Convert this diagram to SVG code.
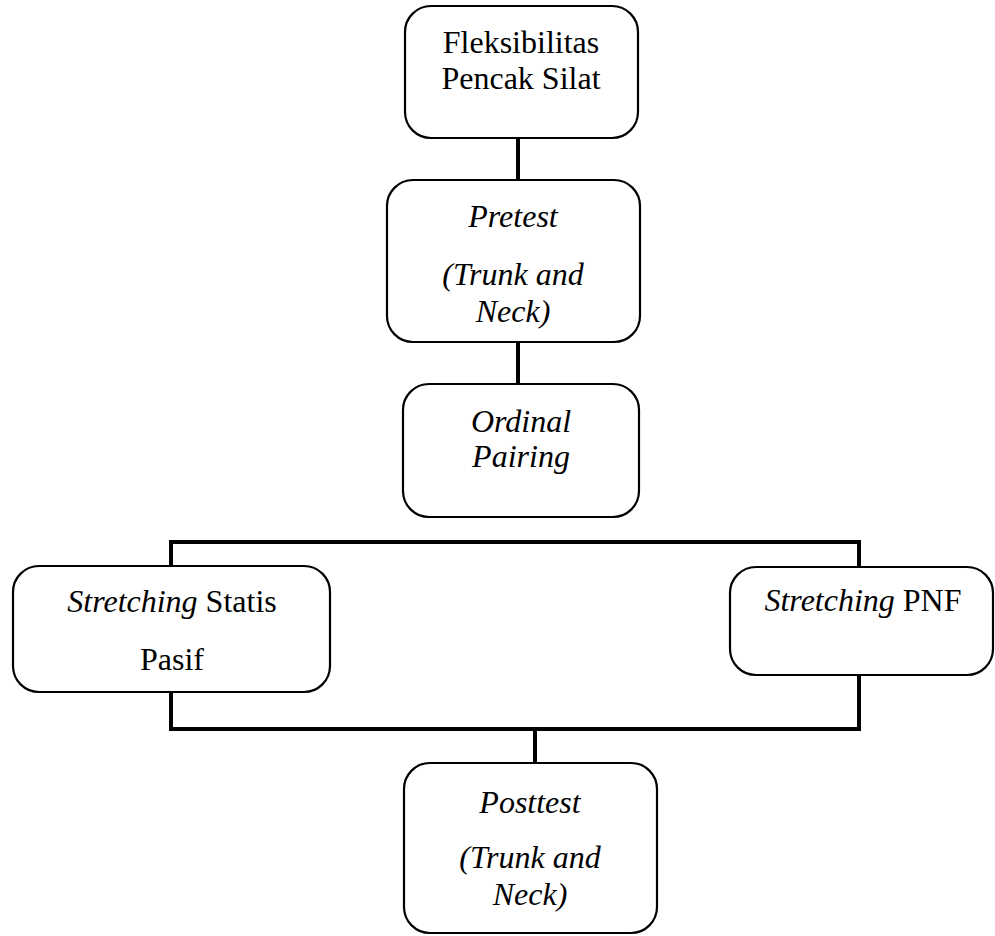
<svg xmlns="http://www.w3.org/2000/svg" width="995" height="936" viewBox="0 0 995 936">
<style>
.box{fill:#fff;stroke:#000;stroke-width:2.2}
.t{font-family:"Liberation Serif","Times New Roman",serif;font-size:32px;fill:#000;text-anchor:middle}
.i{font-style:italic}
.c{fill:none;stroke:#000;stroke-width:4;stroke-linecap:square}
</style>
<rect width="995" height="936" fill="#fff"/>
<g id="connectors">
<line class="c" x1="518" y1="138" x2="518" y2="180"/>
<line class="c" x1="518" y1="342" x2="518" y2="384"/>
<polyline class="c" points="171,566 171,542 859,542 859,567"/>
<polyline class="c" points="171,692 171,729 859,729 859,675"/>
<line class="c" x1="535" y1="729" x2="535" y2="763"/>
</g>
<g id="n1">
<rect class="box" x="405" y="6" width="233" height="132" rx="26"/>
<text class="t" x="521" y="53">Fleksibilitas</text>
<text class="t" x="521" y="89">Pencak Silat</text>
</g>
<g id="n2">
<rect class="box" x="387" y="180" width="253" height="162" rx="26"/>
<text class="t i" x="513" y="227">Pretest</text>
<text class="t i" x="513" y="285">(Trunk and</text>
<text class="t i" x="513" y="322">Neck)</text>
</g>
<g id="n3">
<rect class="box" x="403" y="384" width="236" height="133" rx="26"/>
<text class="t i" x="521" y="432">Ordinal</text>
<text class="t i" x="521" y="467">Pairing</text>
</g>
<g id="n4">
<rect class="box" x="13" y="566" width="317" height="126" rx="26"/>
<text class="t" x="172" y="612"><tspan class="i">Stretching</tspan> Statis</text>
<text class="t" x="172" y="670">Pasif</text>
</g>
<g id="n5">
<rect class="box" x="730" y="567" width="263" height="108" rx="26"/>
<text class="t" x="863" y="611"><tspan class="i">Stretching</tspan> PNF</text>
</g>
<g id="n6">
<rect class="box" x="404" y="763" width="253" height="170" rx="26"/>
<text class="t i" x="530" y="813">Posttest</text>
<text class="t i" x="530" y="868">(Trunk and</text>
<text class="t i" x="530" y="905">Neck)</text>
</g>
</svg>
